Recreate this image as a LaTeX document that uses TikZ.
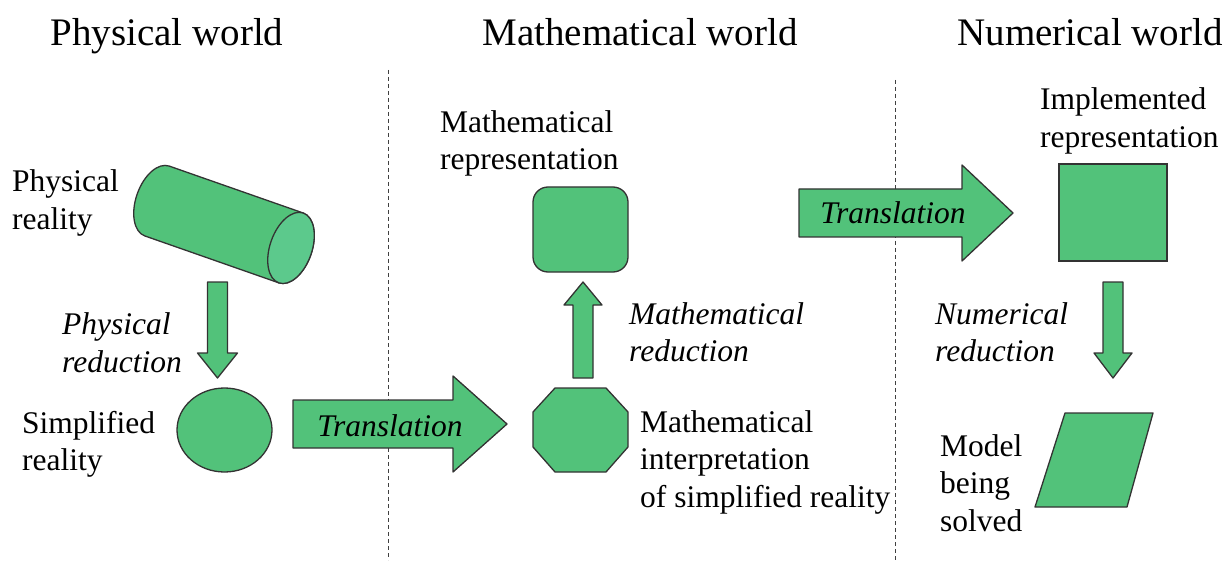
\documentclass[tikz,border=0pt]{standalone}
\usepackage{fontspec}
\setmainfont{Liberation Serif}
\definecolor{gfill}{HTML}{52C27A}
\definecolor{gfilltwo}{HTML}{5CC98C}
\definecolor{edge}{HTML}{333333}
\begin{document}
\begin{tikzpicture}[x=1pt,y=-1pt,
  shp/.style={fill=gfill,draw=edge,line width=1.3pt,line join=round},
  hdr/.style={font=\fontsize{39}{46}\selectfont,inner sep=0pt,anchor=base},
  lbl/.style={font=\fontsize{31.5}{37.5}\selectfont,align=left,inner sep=0pt,anchor=west},
  ilbl/.style={lbl,font=\fontsize{31.5}{37.5}\selectfont\itshape},
  tlbl/.style={font=\fontsize{31.5}{37.5}\selectfont\itshape,inner sep=0pt},
  sepline/.style={dash pattern=on 4pt off 3pt,line width=1pt,draw=black!75}]
\useasboundingbox (0,0) rectangle (1229,572);

% headers
\node[hdr] (h1) at (167,46) {Physical world};
\node[hdr] (h2) at (640,46) {Mathematical world};
\node[hdr] (h3) at (1090,46) {Numerical world};

% separators
\coordinate (s1a) at (388,70);
\coordinate (s1b) at (388,560);
\coordinate (s2a) at (895,80);
\coordinate (s2b) at (895,560);
\draw[sepline] (s1a) -- (s1b);
\draw[sepline] (s2a) -- (s2b);

% cylinder
\begin{scope}[shift={(157,201)},rotate=-19.3]
  \draw[shp] (0,-37) -- (142,-37)
    arc[start angle=-90,end angle=90,x radius=21,y radius=37]
    -- (0,37)
    arc[start angle=90,end angle=270,x radius=21,y radius=37] -- cycle;
  \draw[shp,fill=gfilltwo] (142,0) ellipse[x radius=21,y radius=37];
\end{scope}
\node[lbl] (preal) at (12,203) {Physical\\reality};

% physical reduction arrow
\draw[shp] (207.5,282) -- (227.5,282) -- (227.5,353) -- (237.5,353) -- (217.5,378)
  -- (197.5,353) -- (207.5,353) -- cycle;
\node[ilbl] (pred) at (62,343) {Physical\\reduction};

% simplified reality
\draw[shp] (224.5,430) ellipse[x radius=47.5,y radius=42];
\node[lbl] (sreal) at (22,444.5) {Simplified\\reality};

% translation arrow 1
\draw[shp] (293,400) -- (453,400) -- (453,376) -- (507,424) -- (453,472) -- (453,448)
  -- (293,448) -- cycle;
\node[tlbl] (t1) at (390,426) {Translation};

% octagon
\draw[shp] (555,388) -- (606,388) -- (628,412) -- (628,447) -- (606,472) -- (555,472)
  -- (533,447) -- (533,412) -- cycle;
\node[lbl] (mint) at (640,462) {Mathematical\\interpretation\\of simplified reality};

% up arrow
\draw[shp] (573,378) -- (593,378) -- (593,305) -- (602,305) -- (583,282) -- (564,305)
  -- (573,305) -- cycle;
\node[ilbl] (mred) at (629,332.5) {Mathematical\\reduction};

% rounded square
\draw[shp,rounded corners=15pt] (533,187) rectangle (628,272);
\node[lbl] (mrep) at (440,143.5) {Mathematical\\representation};

% translation arrow 2
\draw[shp] (799,189) -- (962,189) -- (962,165) -- (1013,213) -- (962,261) -- (962,237)
  -- (799,237) -- cycle;
\node[tlbl] (t2) at (893,213) {Translation};

% square
\draw[shp,line join=miter] (1059,164) rectangle (1167,261);
\node[lbl] (irep) at (1040,121) {Implemented\\representation};

% numerical reduction arrow
\draw[shp] (1103,282) -- (1123,282) -- (1123,353) -- (1132,353) -- (1113,378)
  -- (1094,353) -- (1103,353) -- cycle;
\node[ilbl] (nred) at (935,332.5) {Numerical\\reduction};

% parallelogram
\draw[shp] (1065,413) -- (1153,413) -- (1127,507) -- (1035,507) -- cycle;
\node[lbl] (model) at (940,483) {Model\\being\\solved};
\end{tikzpicture}
\end{document}
